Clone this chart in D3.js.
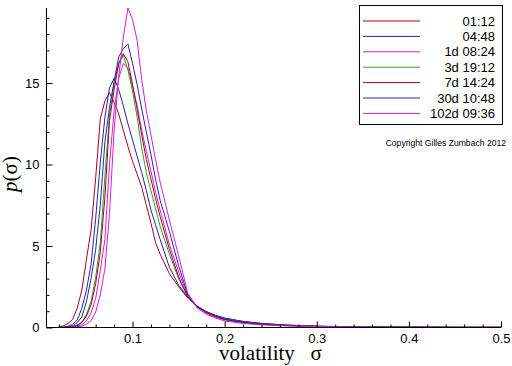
<!DOCTYPE html>
<html>
<head>
<meta charset="utf-8">
<script src="https://cdn.jsdelivr.net/npm/d3@7"></script>
<style>
  body { margin: 0; background: #fff; }
</style>
</head>
<body>
<script>
// volatility grid shared by all curves
const sigma = [0.02, 0.025, 0.03, 0.035, 0.04, 0.045, 0.05, 0.055, 0.06, 0.065,
  0.07, 0.075, 0.08, 0.085, 0.09, 0.095, 0.1, 0.105, 0.11, 0.115,
  0.12, 0.125, 0.13, 0.14, 0.15, 0.16, 0.17, 0.18, 0.19, 0.2,
  0.22, 0.24, 0.26, 0.28, 0.3, 0.33, 0.36, 0.4, 0.45, 0.5]

const p_0112 = [0.05, 0.1, 0.25, 0.5, 1.2, 2.3, 4.2, 6.0, 9.2, 12.8,
  13.9, 14.4, 13.8, 13.1, 12.1, 11.1, 10.2, 9.4, 8.6, 7.5,
  6.4, 5.2, 4.5, 3.3, 2.5, 1.8, 1.3, 0.98, 0.75, 0.58,
  0.37, 0.25, 0.17, 0.12, 0.08, 0.05, 0.03, 0.02, 0.01, 0.01]
const p_0448 = [0.01, 0.03, 0.08, 0.2, 0.45, 1.2, 2.3, 3.9, 6.7, 10.1,
  12.9, 14.7, 15.3, 14.6, 13.6, 12.5, 11.5, 10.5, 9.5, 8.4,
  7.2, 6.3, 5.4, 3.7, 2.6, 1.85, 1.32, 0.97, 0.74, 0.57,
  0.37, 0.25, 0.17, 0.12, 0.08, 0.05, 0.03, 0.02, 0.01, 0.01]
const p_1d = [0, 0, 0.01, 0.03, 0.07, 0.18, 0.4, 0.9, 1.8, 3.5,
  5.4, 10.0, 13.3, 15.3, 16.2, 15.9, 14.8, 13.6, 12.1, 10.8,
  9.6, 8.3, 7.2, 5.1, 3.4, 1.95, 1.25, 0.88, 0.63, 0.46,
  0.29, 0.19, 0.13, 0.09, 0.06, 0.04, 0.02, 0.015, 0.01, 0.01]
const p_3d = [0, 0.01, 0.02, 0.06, 0.15, 0.35, 0.8, 1.6, 3.1, 5.2,
  9.3, 13.0, 15.0, 16.2, 16.7, 15.8, 14.5, 12.9, 11.0, 9.5,
  8.4, 7.3, 6.2, 4.5, 3.0, 1.85, 1.3, 0.95, 0.7, 0.52,
  0.33, 0.22, 0.15, 0.1, 0.07, 0.04, 0.03, 0.02, 0.01, 0.01]
const p_7d = [0, 0.01, 0.02, 0.05, 0.12, 0.3, 0.7, 1.4, 2.7, 4.6,
  8.0, 12.7, 14.6, 16.2, 16.8, 16.3, 14.9, 13.4, 11.8, 10.3,
  9.1, 7.9, 6.8, 4.8, 3.1, 1.9, 1.28, 0.93, 0.68, 0.5,
  0.32, 0.21, 0.14, 0.1, 0.07, 0.04, 0.03, 0.02, 0.01, 0.01]
const p_30d = [0, 0.01, 0.04, 0.1, 0.3, 0.65, 1.6, 3.0, 4.8, 7.5,
  11.4, 13.5, 15.1, 16.6, 17.1, 17.4, 16.2, 14.9, 13.4, 12.0,
  10.6, 9.1, 7.8, 5.9, 3.8, 2.0, 1.3, 0.93, 0.69, 0.51,
  0.32, 0.21, 0.14, 0.1, 0.07, 0.04, 0.03, 0.02, 0.01, 0.01]
const p_102d = [0, 0, 0.005, 0.01, 0.03, 0.08, 0.2, 0.42, 0.95, 2.0,
  3.6, 7.0, 12.1, 15.4, 17.8, 19.6, 18.9, 17.6, 15.2, 13.3,
  11.8, 10.3, 8.9, 6.6, 4.4, 2.1, 1.2, 0.82, 0.58, 0.4,
  0.25, 0.16, 0.11, 0.08, 0.06, 0.035, 0.02, 0.015, 0.01, 0.01]

const names = ['01:12', '04:48', '1d 08:24', '3d 19:12', '7d 14:24', '30d 10:48', '102d 09:36']
const colors = ['#a8001e', '#2424aa', '#dc1adc', '#1eaa1e', '#a8001e', '#2424aa', '#dc1adc']
const series = [p_0112, p_0448, p_1d, p_3d, p_7d, p_30d, p_102d]

const xMajor = [0.1, 0.2, 0.3, 0.4, 0.5]
const yMajor = [0, 5, 10, 15]

const W = 512, H = 366
const sans = '"Liberation Sans", Arial, sans-serif'
const serif = '"Liberation Serif", "Times New Roman", serif'

const svg = d3.select('body').append('svg')
  .attr('width', W)
  .attr('height', H)

const x = d3.scaleLinear().domain([0.0066, 0.5]).range([46.5, 501])
const y = d3.scaleLinear().domain([0, 19.6]).range([327.5, 8])

// curves
const line = d3.line()
  .x((d, i) => x(sigma[i]))
  .y(d => y(d))

svg.append('g').selectAll('path')
  .data(series)
  .enter().append('path')
  .attr('d', d => line(d))
  .attr('fill', 'none')
  .attr('stroke', (d, i) => colors[i])
  .attr('stroke-width', 1)

// axes: ticks point inside the plot
const xMinor = d3.range(0.02, 0.499, 0.02).filter(v => Math.abs(v * 10 - Math.round(v * 10)) > 1e-6)
const yMinor = d3.range(1, 20).filter(v => v % 5 !== 0)

const gx = svg.append('g').attr('transform', 'translate(0,' + y(0) + ')')
gx.call(d3.axisBottom(x).tickValues(xMinor).tickSize(-3).tickFormat(''))
gx.call(g => g.select('.domain').remove())
const gx2 = svg.append('g').attr('transform', 'translate(0,' + y(0) + ')')
gx2.call(d3.axisBottom(x).tickValues(xMajor).tickSize(-6).tickPadding(6).tickFormat(d3.format('.1f')))
gx2.selectAll('text').style('font-size', '13px').style('font-family', sans)
gx2.select('.domain').attr('d', 'M' + x.range()[0] + ',0H' + x.range()[1])

const gy = svg.append('g').attr('transform', 'translate(' + x.range()[0] + ',0)')
gy.call(d3.axisLeft(y).tickValues(yMinor).tickSize(-3).tickFormat(''))
gy.call(g => g.select('.domain').remove())
const gy2 = svg.append('g').attr('transform', 'translate(' + x.range()[0] + ',0)')
gy2.call(d3.axisLeft(y).tickValues(yMajor).tickSize(-6).tickPadding(7).tickFormat(d3.format('d')))
gy2.selectAll('text').style('font-size', '13px').style('font-family', sans)
gy2.select('.domain').attr('d', 'M0,' + y.range()[0] + 'V' + y.range()[1])

// axis titles
svg.append('text')
  .attr('x', 219).attr('y', 360)
  .style('font-family', serif)
  .style('font-size', '21px')
  .style('white-space', 'pre')
  .text('volatility   \u03c3')

svg.append('text')
  .attr('transform', 'translate(17,174) rotate(-90)')
  .attr('text-anchor', 'middle')
  .style('font-family', serif)
  .style('font-size', '21px')
  .html('<tspan font-style="italic">p</tspan>(\u03c3)')

// legend
const leg = svg.append('g')
leg.append('rect')
  .attr('x', 359.5).attr('y', 5.5)
  .attr('width', 143).attr('height', 119)
  .attr('fill', '#fff').attr('stroke', '#000')

const rows = leg.selectAll('g.row')
  .data(names)
  .enter().append('g')
  .attr('class', 'row')
  .attr('transform', (d, i) => 'translate(0,' + (21 + i * 15.4) + ')')
rows.append('line')
  .attr('x1', 363).attr('x2', 420)
  .attr('stroke', (d, i) => colors[i])
rows.append('text')
  .attr('x', 495).attr('y', 4.5)
  .attr('text-anchor', 'end')
  .style('font-family', sans)
  .style('font-size', '13px')
  .text(d => d)

svg.append('text')
  .attr('x', 506).attr('y', 146)
  .attr('text-anchor', 'end')
  .style('font-family', sans)
  .style('font-size', '8.6px')
  .text('Copyright Gilles Zumbach 2012')
</script>
</body>
</html>
